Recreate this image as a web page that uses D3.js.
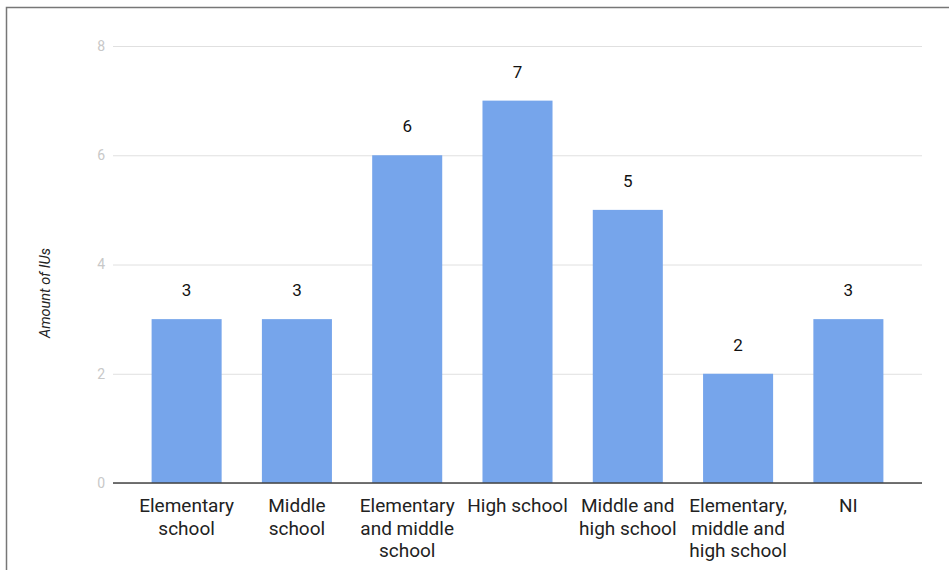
<!DOCTYPE html>
<html>
<head>
<meta charset="utf-8">
<script src="https://cdn.jsdelivr.net/npm/d3@7"></script>
<style>
  html, body { margin: 0; padding: 0; background: #fff; }
  svg { display: block; font-family: Roboto, "Noto Sans", sans-serif; }
</style>
</head>
<body>
<svg id="chart" width="949" height="570"></svg>
<script>
// Number of IUs by school level
const categories = [
  ["Elementary", "school"],
  ["Middle", "school"],
  ["Elementary", "and middle", "school"],
  ["High school"],
  ["Middle and", "high school"],
  ["Elementary,", "middle and", "high school"],
  ["NI"]
];
const values = [3, 3, 6, 7, 5, 2, 3];
const yTicks = [0, 2, 4, 6, 8];
const yTitle = "Amount of IUs";

const svg = d3.select("#chart");
const W = 949, H = 570;

// outer frame
svg.append("rect")
  .attr("x", 6.5).attr("y", 7.5)
  .attr("width", W + 10).attr("height", H + 10)
  .attr("fill", "none").attr("stroke", "#777").attr("stroke-width", 1.5);

const x = d3.scaleBand()
  .domain(d3.range(categories.length))
  .range([113, 922])
  .paddingInner(0.365)
  .paddingOuter(0.35);

const y = d3.scaleLinear().domain([0, 8]).range([483, 46]);

// gridlines + tick labels
const yAxis = d3.axisLeft(y).tickValues(yTicks).tickSize(-(922 - 113)).tickPadding(8);
const gy = svg.append("g").attr("transform", "translate(113,0)").call(yAxis);
gy.select(".domain").remove();
gy.selectAll(".tick line").attr("stroke", "#e0e0e0").attr("stroke-width", 1);
gy.selectAll(".tick text").attr("fill", "#c8c8c8").attr("font-size", 14)
  .attr("font-family", "Roboto, sans-serif");

// bars
svg.append("g").selectAll("rect")
  .data(values)
  .join("rect")
  .attr("x", (d, i) => x(i))
  .attr("y", d => y(d))
  .attr("width", x.bandwidth())
  .attr("height", d => y(0) - y(d))
  .attr("fill", "#76a5eb");

// value labels
svg.append("g").selectAll("text")
  .data(values)
  .join("text")
  .attr("x", (d, i) => x(i) + x.bandwidth() / 2)
  .attr("y", d => y(d) - 23)
  .attr("text-anchor", "middle")
  .attr("font-size", 17)
  .attr("fill", "#111")
  .text(d => d);

// baseline
svg.append("line")
  .attr("x1", 113).attr("x2", 922)
  .attr("y1", y(0)).attr("y2", y(0))
  .attr("stroke", "#444").attr("stroke-width", 1.5);

// category labels
const xl = svg.append("g").selectAll("text")
  .data(categories)
  .join("text")
  .attr("x", (d, i) => x(i) + x.bandwidth() / 2)
  .attr("y", 512)
  .attr("text-anchor", "middle")
  .attr("font-size", 19)
  .attr("fill", "#222");
xl.selectAll("tspan")
  .data(d => d)
  .join("tspan")
  .attr("x", function () { return d3.select(this.parentNode).attr("x"); })
  .attr("dy", (d, i) => i === 0 ? 0 : 22.5)
  .text(d => d);

// y title
svg.append("text")
  .attr("transform", "translate(50,293) rotate(-90)")
  .attr("text-anchor", "middle")
  .attr("font-size", 14.5)
  .attr("font-style", "italic")
  .attr("fill", "#222")
  .text(yTitle);
</script>
</body>
</html>
